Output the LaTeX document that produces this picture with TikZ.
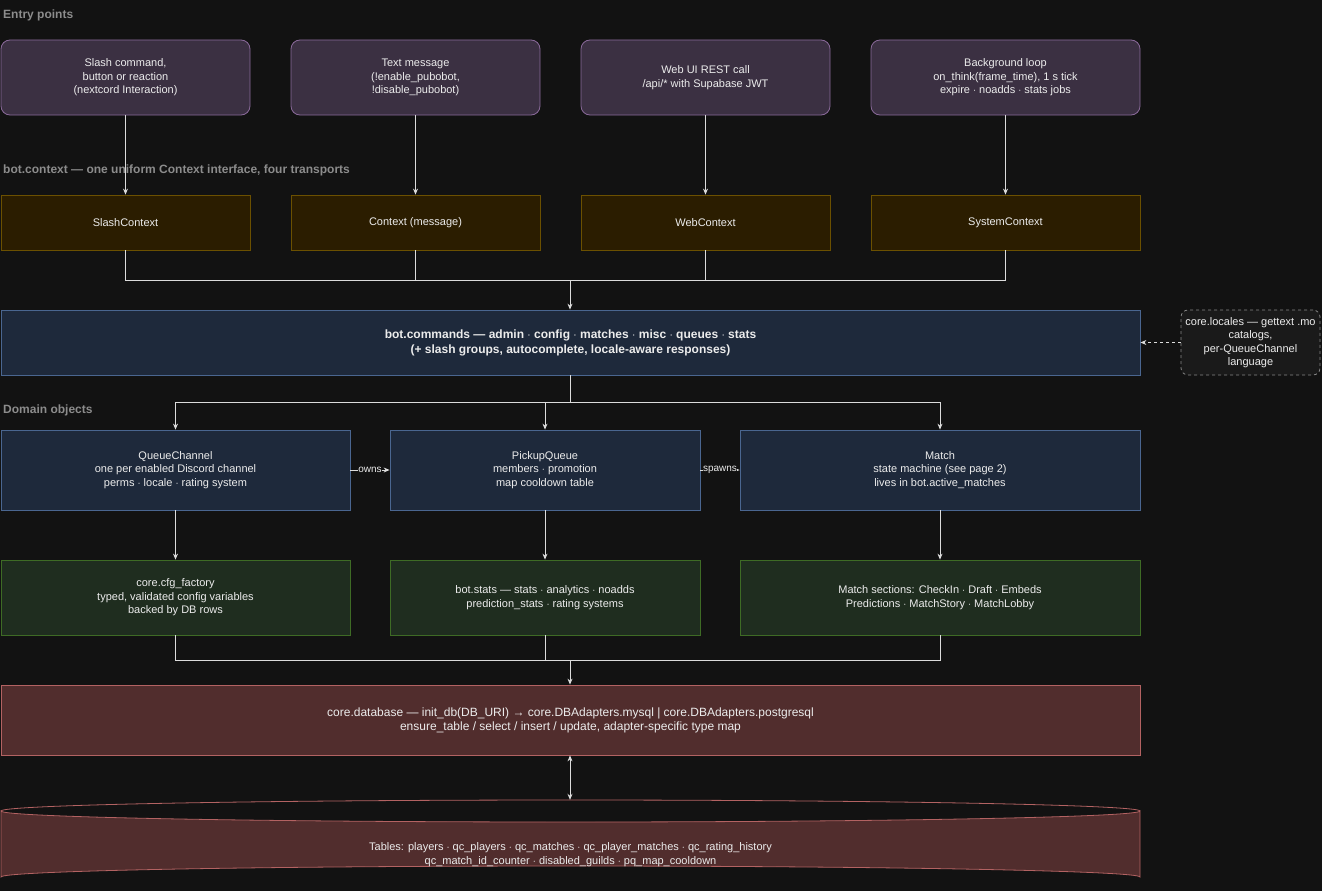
\documentclass[tikz,border=0pt]{standalone}
\usepackage{fontspec}
\setmainfont{Liberation Sans}
\usepackage{tikz}
\usetikzlibrary{positioning,arrows.meta}
\usepackage{xcolor}
\definecolor{bgdark}{RGB}{18, 18, 18}
\definecolor{textlight}{RGB}{236, 236, 236}
\definecolor{labelgray}{RGB}{140, 140, 140}
\definecolor{entryfill}{RGB}{59, 48, 66}
\definecolor{entryline}{RGB}{138, 106, 154}
\definecolor{ctxfill}{RGB}{43, 29, 0}
\definecolor{ctxline}{RGB}{107, 80, 0}
\definecolor{bluefill}{RGB}{30, 41, 59}
\definecolor{blueline}{RGB}{74, 102, 144}
\definecolor{greenfill}{RGB}{31, 45, 31}
\definecolor{greenline}{RGB}{62, 107, 37}
\definecolor{redfill}{RGB}{81, 45, 45}
\definecolor{redline}{RGB}{179, 98, 98}
\definecolor{notefill}{RGB}{26, 26, 26}
\definecolor{noteline}{RGB}{136, 136, 136}
\definecolor{arrowwhite}{RGB}{220, 220, 220}

\begin{document}
\begin{tikzpicture}[
        x=1pt, y=-1pt,
        >={Stealth[length=6pt,width=5pt]},
        % Node styles
        box/.style={text=textlight, line width=0.8pt, align=center, inner sep=2pt, font=\fontsize{11}{13.5}\selectfont},
        entry/.style={box, draw=entryline, fill=entryfill, rounded corners=9pt, minimum height=75pt},
        ctx/.style={box, draw=ctxline, fill=ctxfill, minimum height=55pt},
        objbox/.style={box, draw=blueline, fill=bluefill, minimum height=80pt},
        support/.style={box, draw=greenline, fill=greenfill, minimum height=75pt},
        storage/.style={box, draw=redline, fill=redfill},
        note/.style={box, draw=noteline, fill=notefill, dashed, rounded corners=7pt, minimum width=139pt, minimum height=65pt},
        section/.style={anchor=west, text=labelgray, font=\fontsize{12}{14}\selectfont\bfseries, inner sep=0pt},
        flow/.style={draw=arrowwhite, line width=0.8pt},
        edgelabel/.style={fill=bgdark, text=textlight, inner sep=0.5pt, font=\fontsize{10}{11}\selectfont}
    ]
    % Background and page size
    \fill[bgdark] (0,0) rectangle (1322,891);
    \useasboundingbox (0,0) rectangle (1322,891);

    % Entry points
    \node[section] (entrylbl) at (3,15) {Entry points};
    \node[entry, minimum width=249pt] (slash) at (125.5,77.5) {Slash command,\\button or reaction\\(nextcord Interaction)};
    \node[entry, minimum width=249pt] (textmsg) at (415.5,77.5) {Text message\\(!enable\_pubobot,\\!disable\_pubobot)};
    \node[entry, minimum width=249pt] (webui) at (705.5,77.5) {Web UI REST call\\/api/* with Supabase JWT};
    \node[entry, minimum width=269pt] (bgloop) at (1005.5,77.5) {Background loop\\on\_think(frame\_time), 1 s tick\\expire $\cdot$ noadds $\cdot$ stats jobs};

    % Context transports
    \node[section] (ctxlbl) at (3,170) {bot.context — one uniform Context interface, four transports};
    \node[ctx, minimum width=249pt] (slashctx) at (125.5,222.5) {SlashContext};
    \node[ctx, minimum width=249pt] (msgctx) at (415.5,222.5) {Context (message)};
    \node[ctx, minimum width=249pt] (webctx) at (705.5,222.5) {WebContext};
    \node[ctx, minimum width=269pt] (sysctx) at (1005.5,222.5) {SystemContext};

    % Commands layer
    \node[objbox, minimum width=1139pt, minimum height=65pt, font=\fontsize{12}{15}\selectfont\bfseries] (cmds) at (570.5,342.5) {bot.commands — admin $\cdot$ config $\cdot$ matches $\cdot$ misc $\cdot$ queues $\cdot$ stats\\(+ slash groups, autocomplete, locale-aware responses)};
    \node[note] (locales) at (1250.5,342.5) {core.locales — gettext .mo\\catalogs,\\per-QueueChannel\\language};

    % Domain objects
    \node[section] (domlbl) at (3,410) {Domain objects};
    \node[objbox, minimum width=349pt] (qchan) at (175.5,470) {QueueChannel\\one per enabled Discord channel\\perms $\cdot$ locale $\cdot$ rating system};
    \node[objbox, minimum width=310pt] (pqueue) at (545,470) {PickupQueue\\members $\cdot$ promotion\\map cooldown table};
    \node[objbox, minimum width=400pt] (match) at (940,470) {Match\\state machine (see page 2)\\lives in bot.active\_matches};

    % Support modules
    \node[support, minimum width=349pt] (cfg) at (175.5,597.5) {core.cfg\_factory\\typed, validated config variables\\backed by DB rows};
    \node[support, minimum width=310pt] (stats) at (545,597.5) {bot.stats — stats $\cdot$ analytics $\cdot$ noadds\\prediction\_stats $\cdot$ rating systems};
    \node[support, minimum width=400pt] (sections) at (940,597.5) {Match sections: CheckIn $\cdot$ Draft $\cdot$ Embeds\\Predictions $\cdot$ MatchStory $\cdot$ MatchLobby};

    % Database layer
    \node[storage, minimum width=1139pt, minimum height=70pt, font=\fontsize{12}{14}\selectfont] (db) at (570.5,720) {core.database — init\_db(DB\_URI) → core.DBAdapters.mysql | core.DBAdapters.postgresql\\ensure\_table / select / insert / update, adapter-specific type map};

    % Tables cylinder
    \filldraw[fill=redfill, draw=redline, line width=0.8pt] (1,811) -- (1,877) arc[start angle=180, end angle=360, x radius=569.5, y radius=11] -- (1140,811) arc[start angle=0, end angle=180, x radius=569.5, y radius=11] -- cycle;
    \draw[redline, line width=0.8pt] (1,811) arc[start angle=180, end angle=360, x radius=569.5, y radius=11];
    \node[minimum width=1139pt, minimum height=88pt, inner sep=0pt] (tables) at (570.5,844) {};
    \node[box, font=\fontsize{11}{14}\selectfont] (tablestext) at (570.5,855) {Tables: players $\cdot$ qc\_players $\cdot$ qc\_matches $\cdot$ qc\_player\_matches $\cdot$ qc\_rating\_history\\qc\_match\_id\_counter $\cdot$ disabled\_guilds $\cdot$ pq\_map\_cooldown};

    % Junction points
    \coordinate (ctxjoin) at (570,280);
    \coordinate (domsplit) at (570,402);
    \coordinate (dbjoin) at (570,660);

    % Entry -> context
    \draw[flow, ->] (slash) -- (slashctx);
    \draw[flow, ->] (textmsg) -- (msgctx);
    \draw[flow, ->] (webui) -- (webctx);
    \draw[flow, ->] (bgloop) -- (sysctx);

    % Contexts -> commands
    \draw[flow] (slashctx.south) |- (ctxjoin);
    \draw[flow] (msgctx.south) |- (ctxjoin);
    \draw[flow] (webctx.south) |- (ctxjoin);
    \draw[flow] (sysctx.south) |- (ctxjoin);
    \draw[flow, ->] (ctxjoin) -- (cmds.north -| ctxjoin);
    \draw[flow, dashed, ->] (locales) -- (cmds);

    % Commands -> domain
    \draw[flow] (cmds.south -| domsplit) -- (domsplit);
    \draw[flow, ->] (domsplit) -| (qchan.north);
    \draw[flow, ->] (domsplit) -| (pqueue.north);
    \draw[flow, ->] (domsplit) -| (match.north);
    \draw[flow, ->] (qchan) -- node[edgelabel] {owns} (pqueue);
    \draw[flow, ->] (pqueue) -- node[edgelabel] {spawns} (match);

    % Domain -> support
    \draw[flow, ->] (qchan) -- (cfg);
    \draw[flow, ->] (pqueue) -- (stats);
    \draw[flow, ->] (match) -- (sections);

    % Support -> database
    \draw[flow] (cfg.south) |- (dbjoin);
    \draw[flow] (stats.south) |- (dbjoin);
    \draw[flow] (sections.south) |- (dbjoin);
    \draw[flow, ->] (dbjoin) -- (db.north -| dbjoin);
    \draw[flow, <->] (db.south -| dbjoin) -- (tables.north -| dbjoin);

\end{tikzpicture}
\end{document}
